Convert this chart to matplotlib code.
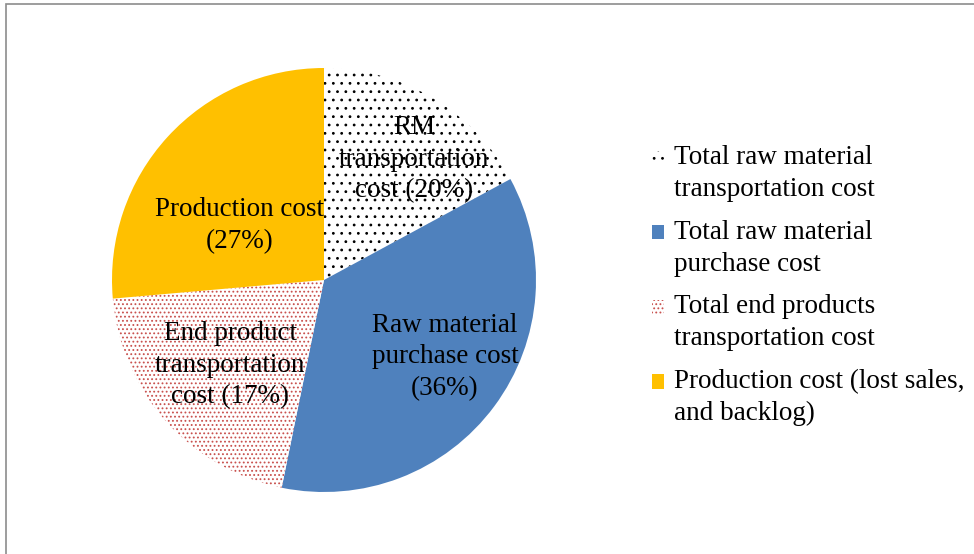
import matplotlib.pyplot as plt
from matplotlib.patches import Patch, Rectangle
from matplotlib.legend_handler import HandlerPatch

# 数据（扇区大小按图中角度读取）
shares = [17.1, 36.1, 20.4, 26.4]
slice_labels = ['RM\ntransportation\ncost (20%)',
                'Raw material\npurchase cost\n(36%)',
                'End product\ntransportation\ncost (17%)',
                'Production cost\n(27%)']
legend_labels = ['Total raw material\ntransportation cost',
                 'Total raw material\npurchase cost',
                 'Total end products\ntransportation cost',
                 'Production cost (lost sales,\nand backlog)']

plt.rcParams['font.family'] = ['Liberation Serif', 'DejaVu Serif']
plt.rcParams['hatch.linewidth'] = 0.8

W, H = 974, 554
fig = plt.figure(figsize=(W / 100, H / 100), dpi=100)

# 外框
fig.patches.append(Rectangle((5.5 / W, -0.1), 1.2, 1.1 - 4.5 / H,
                             transform=fig.transFigure, fill=False,
                             edgecolor='#8c8c8c', linewidth=1.2))

cx, cy, r = 324, 274, 212
ax = fig.add_axes([(cx - r) / W, (cy - r) / H, 2 * r / W, 2 * r / H])

faces = ['white', '#4f81bd', 'white', '#ffc000']
hatch_cols = ['black', '#4f81bd', '#c8504d', '#ffc000']
hatches = ['..', None, '....', None]

wedges, _ = ax.pie(shares, startangle=90, counterclock=False, radius=1,
                   wedgeprops=dict(linewidth=0))
for w, fc, hc, h in zip(wedges, faces, hatch_cols, hatches):
    w.set_facecolor(fc)
    w.set_edgecolor(hc)
    w.set_linewidth(0)
    if h:
        w.set_hatch(h)
ax.set_xlim(-1, 1)
ax.set_ylim(-1, 1)
ax.axis('off')

# 扇区标签位置
label_pos = [(0.425, 0.57), (0.571, -0.362), (-0.443, -0.401), (-0.40, 0.257)]
for (x, y), txt in zip(label_pos, slice_labels):
    ax.text(x, y, txt, ha='center', va='center', fontsize=19.5,
            linespacing=1.35)


def top_patch(legend, orig_handle, xdescent, ydescent, width, height, fontsize):
    # 图例方块对齐第一行文字
    return Rectangle((-xdescent, -ydescent + 0.58 * fontsize), width, height)


handles = [Patch(facecolor=fc, edgecolor=hc, hatch=h, linewidth=0)
           for fc, hc, h in zip(faces, hatch_cols, hatches)]
leg = fig.legend(handles, legend_labels, loc='upper left',
                 bbox_to_anchor=(652 / W, 1 - 145 / H), frameon=False,
                 fontsize=19.5, handlelength=0.43, handleheight=0.43,
                 handletextpad=0.4, labelspacing=0.64, borderpad=0,
                 borderaxespad=0,
                 handler_map={Patch: HandlerPatch(patch_func=top_patch)})
for t in leg.get_texts():
    t.set_linespacing(1.38)

fig.savefig('out.png', dpi=100)
